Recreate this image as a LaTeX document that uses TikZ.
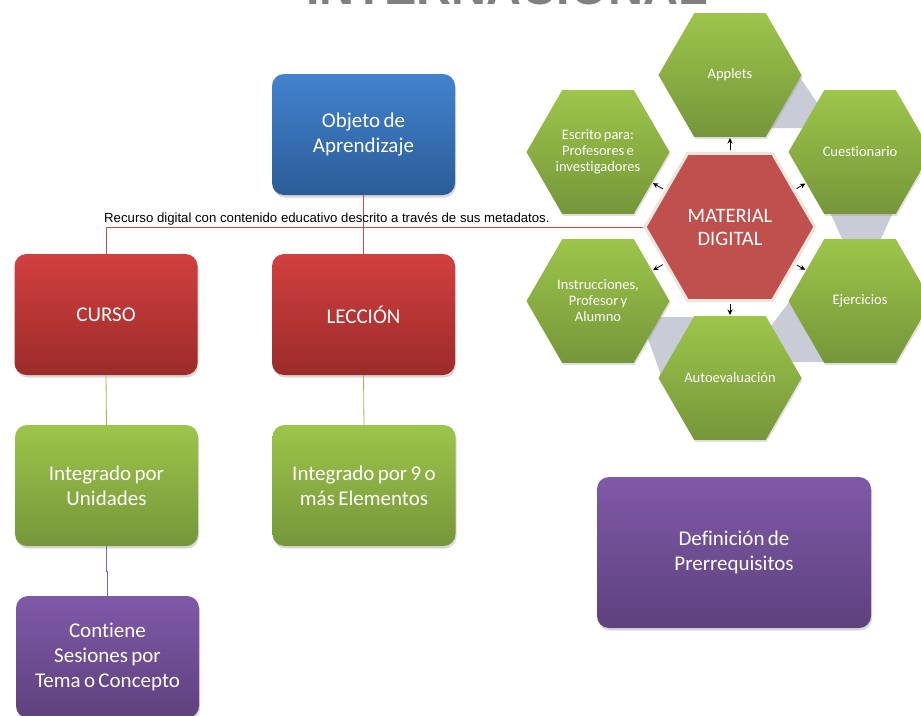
\documentclass[tikz,border=0pt]{standalone}
\usepackage{fontspec}
\setmainfont{Carlito}[Ligatures=NoCommon]
\newfontfamily\arialfont{Liberation Sans}
\usetikzlibrary{shapes.geometric,shadows,arrows.meta,calc}

\definecolor{azulA}{HTML}{4283CE}
\definecolor{azulB}{HTML}{2B5C98}
\definecolor{rojoA}{HTML}{D1403F}
\definecolor{rojoB}{HTML}{9B2B2A}
\definecolor{verdeA}{HTML}{9DC54A}
\definecolor{verdeB}{HTML}{76963A}
\definecolor{moradoA}{HTML}{7F59A8}
\definecolor{moradoB}{HTML}{5E417E}
\definecolor{hexrojo}{HTML}{C0504D}
\definecolor{bordehex}{HTML}{EAE7DC}
\definecolor{anillo}{HTML}{C9CCD7}
\definecolor{linearoja}{HTML}{C0504D}
\definecolor{lineaverde}{HTML}{9BBB59}
\definecolor{lineamorada}{HTML}{8064A2}
\definecolor{titulogris}{HTML}{808080}

\newcommand\apretado{\spaceskip=0.16em plus 0.1em\relax}

\begin{document}
\begin{tikzpicture}[x=1pt,y=-1pt,
    caja/.style={rounded corners=12pt, minimum width=183pt, minimum height=121pt,
        inner sep=0pt, align=center, text=white,
        font=\fontsize{21}{25}\selectfont\apretado,
        drop shadow={opacity=0.3, shadow xshift=1pt, shadow yshift=-2.5pt}},
    azul/.style={caja, top color=azulA, bottom color=azulB},
    rojo/.style={caja, top color=rojoA, bottom color=rojoB},
    verde/.style={caja, top color=verdeA, bottom color=verdeB},
    morado/.style={caja, top color=moradoA, bottom color=moradoB},
    hexlabel/.style={text=white, align=center, inner sep=0pt,
        font=\fontsize{14.5}{16}\selectfont\apretado},
    hexa/.style={regular polygon, regular polygon sides=6, minimum size=143pt,
        inner sep=0pt, top color=verdeA, bottom color=verdeB,
        drop shadow={opacity=0.25, shadow xshift=1pt, shadow yshift=-2pt}},
    flecha/.style={-{Stealth[length=5.5pt,width=5pt]}, line width=0.8pt,
        shorten <=77pt, shorten >=63pt},
    conector/.style={line width=0.8pt}
  ]
    \useasboundingbox (0,0) rectangle (921,715);
    \clip (0,0) rectangle (921,715);
    \fill[white] (0,0) rectangle (921,715);

    % Title (cut off at the top)
    \node[anchor=base, inner sep=0pt, text=titulogris,
        font=\arialfont\bfseries\fontsize{48.5}{48.5}\selectfont]
        (titulo) at (507,4) {INTERNACIONAL};

    % Left tree
    \node[azul] (objeto) at (363.5,134.5) {Objeto de\\Aprendizaje};
    \node[rojo] (curso) at (106,314.5) {CURSO};
    \node[rojo] (leccion) at (363.5,314.5) {LECCIÓN};
    \node[verde] (unidades) at (106.5,485.5) {Integrado por\\Unidades};
    \node[verde] (elementos) at (364,485.5) {Integrado por 9 o\\más Elementos};
    \node[morado, minimum height=122pt] (sesiones) at (107.5,657) {Contiene\\Sesiones por\\Tema o Concepto};

    % Right: prerequisites
    \node[morado, minimum width=274pt, minimum height=151pt] (prerreq) at (734,552.5)
        {Definición de\\Prerrequisitos};

    % Gray ring pieces behind the hexagons
    \fill[anillo] (795,70) -- (822,110) -- (810,128) -- (760,128) -- cycle;
    \fill[anillo] (828,208) -- (895,208) -- (879,243) -- (844,243) -- cycle;
    \fill[anillo] (792,298) -- (768,330) -- (780,362) -- (826,362) -- cycle;
    \fill[anillo] (655,317) -- (700,317) -- (662,378) -- (643,325) -- cycle;

    % Hexagon cluster
    \node[hexa, label={[hexlabel]center:Applets}] (applets) at (730,75) {};
    \node[hexa, label={[hexlabel]center:Cuestionario}] (cuest) at (860,152) {};
    \node[hexa, label={[hexlabel]center:Ejercicios}] (ejerc) at (860,301) {};
    \node[hexa, label={[hexlabel]center:Autoevaluación}] (autoev) at (730,378) {};
    \node[hexa, label={[hexlabel]center:{Instrucciones,\\Profesor y\\Alumno}}] (instr) at (598,301) {};
    \node[hexa, label={[hexlabel]center:{Escrito para:\\Profesores e\\investigadores}}] (escrito) at (598,152) {};
    \node[regular polygon, regular polygon sides=6, minimum size=170pt, inner sep=0pt,
        fill=hexrojo, draw=bordehex, line width=3pt, text=white,
        align=center, font=\fontsize{20.5}{23}\selectfont] (material) at (730,227)
        {MATERIAL\\DIGITAL};
    \foreach \h in {applets,cuest,ejerc,autoev,instr,escrito}
        \draw[flecha] (material.center) -- (\h.center);

    % Connectors
    \draw[conector, linearoja] (material.west) -| (curso.north);
    \draw[conector, linearoja] (objeto.south) -- (leccion.north);
    \draw[conector, lineaverde] (curso.south) -- (unidades.north);
    \draw[conector, lineaverde] (leccion.south) -- (elementos.north);
    \draw[conector, lineamorada] (unidades.south) |- ($(unidades.south)!0.5!(sesiones.north)$)
        -| (sesiones.north);
    \node[anchor=base west, inner sep=0pt, font=\arialfont\fontsize{13.2}{15}\selectfont]
        (recurso) at (104,222)
        {Recurso digital con contenido educativo descrito a través de sus metadatos.};
\end{tikzpicture}
\end{document}
